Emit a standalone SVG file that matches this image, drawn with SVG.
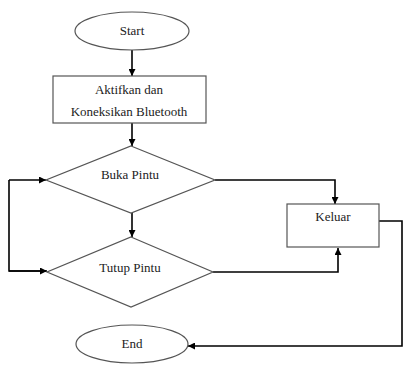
<svg xmlns="http://www.w3.org/2000/svg" width="403" height="365" viewBox="0 0 403 365">
<style>
.shape{fill:#fff;stroke:#555;stroke-width:1.2}
.conn{fill:none;stroke:#000;stroke-width:1.6}
.lbl{font-family:'Liberation Serif','DejaVu Serif',serif;font-size:13px;fill:#222;text-anchor:middle}
</style>
<defs>
<marker id="ah" viewBox="0 0 10 10" refX="10" refY="5" markerWidth="7" markerHeight="7" markerUnits="userSpaceOnUse" orient="auto">
<path d="M0,0 L10,5 L0,10 z" fill="#000"/>
</marker>
</defs>
<rect width="403" height="365" fill="#fff"/>
<g id="connectors">
<path class="conn" d="M132,50 V76" marker-end="url(#ah)"/>
<path class="conn" d="M132,123 V146" marker-end="url(#ah)"/>
<path class="conn" d="M132,213 V237" marker-end="url(#ah)"/>
<path class="conn" d="M215,180 H335 V204" marker-end="url(#ah)"/>
<path class="conn" d="M213,272 H338 V248" marker-end="url(#ah)"/>
<path class="conn" d="M9,180 H46" marker-end="url(#ah)"/>
<path class="conn" d="M46,271 H9 V180"/>
<path class="conn" d="M9,271 H47" marker-end="url(#ah)"/>
<path class="conn" d="M379,221 H402 V346 H188" marker-end="url(#ah)"/>
</g>
<g id="start">
<ellipse class="shape" cx="132" cy="31" rx="57" ry="19"/>
<text class="lbl" x="132" y="35" font-family="Liberation Serif, DejaVu Serif, serif">Start</text>
</g>
<g id="aktifkan">
<rect class="shape" x="53" y="76" width="153" height="47"/>
<text class="lbl" x="129" y="94" font-family="Liberation Serif, DejaVu Serif, serif">Aktifkan dan</text>
<text class="lbl" x="129" y="116" font-family="Liberation Serif, DejaVu Serif, serif">Koneksikan Bluetooth</text>
</g>
<g id="buka">
<polygon class="shape" points="131,146 215,180 131,213 46,180"/>
<text class="lbl" x="130" y="179" font-family="Liberation Serif, DejaVu Serif, serif">Buka Pintu</text>
</g>
<g id="tutup">
<polygon class="shape" points="131,237 213,272 131,307 47,272"/>
<text class="lbl" x="130" y="272" font-family="Liberation Serif, DejaVu Serif, serif">Tutup Pintu</text>
</g>
<g id="keluar">
<rect class="shape" x="287" y="204" width="92" height="43"/>
<text class="lbl" x="333" y="221" font-family="Liberation Serif, DejaVu Serif, serif">Keluar</text>
</g>
<g id="end">
<ellipse class="shape" cx="132" cy="344" rx="56" ry="19"/>
<text class="lbl" x="132" y="348" font-family="Liberation Serif, DejaVu Serif, serif">End</text>
</g>
</svg>
